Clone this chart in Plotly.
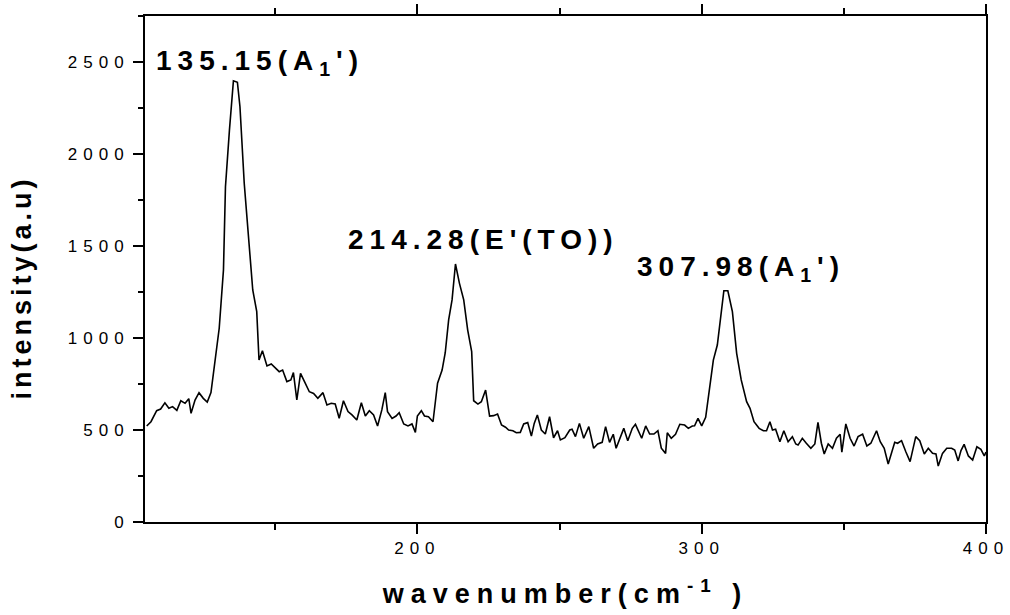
import plotly.graph_objects as go

wavenumber = [104.8, 106.3, 108.3, 109.7, 111.2, 112.6, 113.9, 115.4, 116.8, 118.3, 119.6, 120.4, 121.8, 123.2,
              124.7, 126.1, 127.4, 128.8, 130.3, 131.8, 132.5, 133.9, 134.9, 135.3, 136.7, 137.6, 139.1, 140.6,
              142.1, 143.5, 144.3, 145.5, 147.1, 148.6, 150.0, 151.4, 152.6, 154.1, 155.5, 156.4, 157.6, 158.9,
              160.3, 162.0, 163.5, 165.0, 166.8, 168.2, 169.7, 171.1, 172.5, 174.0, 175.6, 177.0,
              178.7, 180.3, 181.7, 183.1, 184.6, 186.0, 187.5, 188.7, 189.5, 191.1, 192.5, 193.6, 195.2, 196.7,
              198.1, 199.3, 200.0, 201.4, 202.5, 203.9, 205.5, 207.1, 208.7, 209.8, 211.0, 212.2, 213.4, 214.8,
              216.3, 217.7, 219.1, 219.8, 221.3, 222.5, 224.0, 225.4, 226.8, 228.2, 229.6, 231.0, 232.1, 233.6,
              234.8, 236.2, 237.4, 238.8, 240.1, 241.1, 242.2, 243.6, 245.0, 246.5, 247.9, 249.3, 250.3, 251.9,
              253.6, 254.4, 255.6, 257.0, 258.5, 260.3, 262.0, 263.4, 265.0, 266.2, 267.6, 268.9, 269.9, 271.2,
              272.6, 274.0, 275.6, 276.7, 278.9, 280.3, 281.7, 283.2, 284.6, 285.8, 287.3, 287.9, 289.3, 290.8,
              292.3, 294.0, 295.3, 296.7, 297.5, 298.7, 300.0, 301.4, 302.9, 304.1, 305.5, 306.9, 307.8, 309.2,
              310.8, 312.3, 313.9, 315.8, 317.0, 318.4, 320.2, 321.7, 322.8, 324.0, 324.9, 326.0, 327.5,
              328.9, 330.4, 331.9, 333.1, 333.9, 335.4, 336.8, 338.4, 339.8, 340.9, 342.1, 343.1, 344.5, 346.0,
              347.4, 348.7, 349.3, 350.7, 352.2, 353.6, 355.0, 356.6, 358.1, 359.5, 361.5, 362.8, 364.2, 365.6,
              366.9, 367.9, 368.9, 370.3, 371.8, 373.3, 375.3, 376.7, 378.3, 379.7, 381.2, 382.4, 383.2, 384.7,
              386.2, 387.9, 389.0, 390.2, 391.2, 392.3, 393.8, 395.3, 396.8, 398.2, 399.4, 400.0]

intensity = [522, 545, 605, 614, 648, 618, 627, 607, 659, 645, 670, 591, 663, 703,
             672, 652, 703, 862, 1053, 1370, 1822, 2130, 2348, 2398, 2390, 2257, 1841, 1551,
             1261, 1143, 880, 931, 848, 859, 835, 817, 826, 763, 772, 812, 663, 808,
             763, 708, 699, 672, 703, 636, 645, 641, 564, 659, 600, 582,
             554, 648, 576, 605, 582, 522, 609, 703, 600, 563, 576, 594, 533, 522,
             533, 487, 576, 605, 576, 572, 545, 754, 826, 920, 1098, 1207, 1402, 1297,
             1207, 1043, 926, 659, 641, 654, 717, 576, 578, 587, 527, 515, 500, 496,
             485, 487, 533, 540, 467, 536, 582, 500, 478, 572, 458, 496, 446, 458,
             500, 504, 464, 536, 455, 518, 401, 424, 433, 518, 433, 477, 401, 455,
             509, 442, 509, 531, 455, 522, 478, 478, 496, 401, 373, 485, 455, 477,
             531, 527, 509, 522, 523, 563, 522, 569, 745, 880, 962, 1152, 1257, 1257,
             1143, 917, 772, 654, 618, 545, 509, 496, 496, 545, 500, 504, 436,
             496, 436, 464, 424, 418, 455, 428, 401, 424, 542, 428, 370, 424, 401,
             455, 477, 379, 533, 455, 413, 464, 477, 413, 428, 496, 436, 401, 315,
             382, 433, 428, 442, 382, 328, 464, 442, 370, 401, 373, 370, 304, 373,
             401, 401, 391, 332, 388, 422, 359, 337, 409, 395, 359, 380]

y_ticks = [0, 500, 1000, 1500, 2000, 2500]
x_ticks = [200, 300, 400]

peak_x = [135.15, 214.28, 307.98]
peak_labels = ["135.15(A<sub>1</sub>')", "214.28(E'(TO))", "307.98(A<sub>1</sub>')"]
label_pos_x = [107.3, 175.0, 276.4]
label_pos_y = [2500, 1535, 1378]

FONT = "Arial, 'Liberation Sans', sans-serif"


def spaced(t, px):
    return f'<span style="letter-spacing:{px}px">{t}</span>'


fig = go.Figure()
fig.add_trace(go.Scatter(x=wavenumber, y=intensity, mode="lines",
                         line=dict(color="black", width=1.6), showlegend=False))

for lx, ly, txt in zip(label_pos_x, label_pos_y, peak_labels):
    fig.add_annotation(x=lx, y=ly, xref="x", yref="y", text=spaced(txt, 6),
                       showarrow=False, xanchor="left", yanchor="middle",
                       font=dict(family=FONT, size=28, color="black", weight="bold"))

# y-axis title (placed slightly below the axis centre, as in the reference)
fig.add_annotation(x=-0.146, y=0.464, xref="paper", yref="paper",
                   text=spaced("intensity(a.u)", 4), textangle=-90, showarrow=False,
                   xanchor="center", yanchor="middle",
                   font=dict(family=FONT, size=27, color="black", weight="bold"))

fig.update_layout(
    width=1010, height=615,
    margin=dict(l=145, r=24, t=16, b=93, autoexpand=False),
    paper_bgcolor="white", plot_bgcolor="white",
    font=dict(family=FONT, color="black"),
    xaxis=dict(range=[104.2, 400], showgrid=False, zeroline=False, automargin=False,
               showline=True, linecolor="black", linewidth=2, mirror="ticks",
               ticks="outside", ticklen=10, tickwidth=2, tickcolor="black",
               tickvals=x_ticks, ticktext=[spaced(str(v), 6) for v in x_ticks],
               tickfont=dict(size=17, family=FONT),
               minor=dict(tickvals=[150, 250, 350], ticks="outside", ticklen=6,
                          tickwidth=2, tickcolor="black"),
               title=dict(text=spaced("wavenumber(cm<sup>-1</sup> )", 7),
                          font=dict(size=27, family=FONT, weight="bold"),
                          standoff=27)),
    yaxis=dict(range=[0, 2750], showgrid=False, zeroline=False, automargin=False,
               showline=True, linecolor="black", linewidth=2, mirror=True,
               ticks="outside", ticklen=10, tickwidth=2, tickcolor="black",
               tickvals=y_ticks, ticktext=[spaced(str(v), 6) for v in y_ticks],
               tickfont=dict(size=17, family=FONT),
               minor=dict(dtick=250, ticks="outside", ticklen=5,
                          tickwidth=1.5, tickcolor="black")),
    yaxis2=dict(range=[0, 2750], overlaying="y", side="right", showgrid=False,
                automargin=False,
                zeroline=False, showline=False, ticks="outside", ticklen=3,
                tickwidth=1.5, tickcolor="black", dtick=250, showticklabels=False),
)

fig.write_html("out.html")
